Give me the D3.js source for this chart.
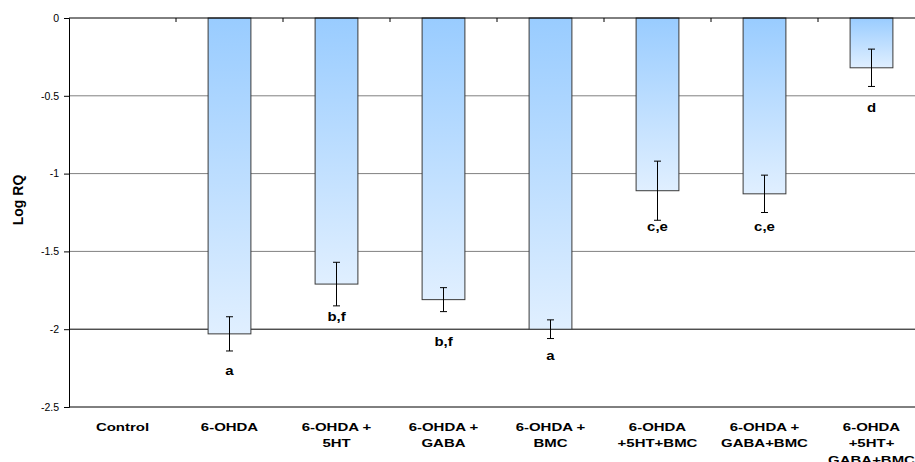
<!DOCTYPE html>
<html><head><meta charset="utf-8">
<script src="https://cdn.jsdelivr.net/npm/d3@7"></script>
<style>body{margin:0;background:#fff}svg{display:block}</style>
</head><body>
<script>
const categories = ["Control","6-OHDA","6-OHDA +\n5HT","6-OHDA +\nGABA","6-OHDA +\nBMC","6-OHDA\n+5HT+BMC","6-OHDA +\nGABA+BMC","6-OHDA\n+5HT+\nGABA+BMC"];
const values = [0, -2.03, -1.71, -1.81, -2.00, -1.11, -1.13, -0.32];
const errors = [0, 0.11, 0.14, 0.077, 0.06, 0.19, 0.12, 0.12];
const sigLabels = ["", "a", "b,f", "b,f", "a", "c,e", "c,e", "d"];
const sigLabelY = [null, -2.262, -1.915, -2.08, -2.17, -1.341, -1.341, -0.578];
const yTicks = [0, -0.5, -1, -1.5, -2, -2.5];

const W = 915, H = 462;
const svg = d3.select("body").append("svg").attr("width", W).attr("height", H)
  .style("font-family", "'Liberation Sans', Arial, sans-serif");

const x = d3.scaleBand().domain(categories).range([69, 925]).paddingInner(0.6).paddingOuter(0.3);
const y = d3.scaleLinear().domain([-2.5, 0]).range([407, 18]);

const defs = svg.append("defs");
const grad = defs.append("linearGradient").attr("id", "barGrad").attr("x1", 0).attr("y1", 0).attr("x2", 0).attr("y2", 1);
grad.append("stop").attr("offset", "0%").attr("stop-color", "#99ccff");
grad.append("stop").attr("offset", "100%").attr("stop-color", "#e0efff");

// gridlines
svg.append("g").selectAll("line").data(yTicks.filter(t => t !== 0 && t !== -2.5)).join("line")
  .attr("x1", 69).attr("x2", W).attr("y1", d => y(d)).attr("y2", d => y(d))
  .attr("stroke", d => d === -2 ? "#000" : "#808080").attr("stroke-width", 1);

// y axis
const yAxis = d3.axisLeft(y).tickValues(yTicks).tickSize(5).tickPadding(5).tickFormat(d => String(d));
const gy = svg.append("g").attr("transform", "translate(69,0)").call(yAxis);
gy.select(".domain").attr("stroke", "#000");
gy.selectAll(".tick line").attr("stroke", "#000");
gy.selectAll(".tick text").attr("font-size", 10.5).attr("fill", "#000").attr("font-family", "'Liberation Sans', Arial, sans-serif");

// bottom line
svg.append("line").attr("x1", 69).attr("x2", W).attr("y1", y(-2.5)).attr("y2", y(-2.5)).attr("stroke", "#000");

// bars
svg.append("g").selectAll("rect").data(categories.map((c, i) => ({c, v: values[i]})).filter(d => d.v !== 0)).join("rect")
  .attr("x", d => x(d.c)).attr("width", x.bandwidth())
  .attr("y", y(0)).attr("height", d => y(d.v) - y(0))
  .attr("fill", "url(#barGrad)").attr("stroke", "#3a3a3a").attr("stroke-width", 1);

// zero axis line with category ticks
svg.append("line").attr("x1", 69).attr("x2", W).attr("y1", y(0)).attr("y2", y(0)).attr("stroke", "#000");
svg.append("g").selectAll("line").data(categories.slice(1)).join("line")
  .attr("x1", c => x(c) + x.bandwidth() / 2 - x.step() / 2).attr("x2", c => x(c) + x.bandwidth() / 2 - x.step() / 2)
  .attr("y1", y(0)).attr("y2", y(0) + 4).attr("stroke", "#000");

// error bars
const eb = svg.append("g").attr("stroke", "#000").attr("stroke-width", 1);
categories.forEach((c, i) => {
  if (!errors[i]) return;
  const cx = x(c) + x.bandwidth() / 2;
  const y1 = y(values[i] + errors[i]), y2 = y(values[i] - errors[i]);
  eb.append("line").attr("x1", cx).attr("x2", cx).attr("y1", y1).attr("y2", y2);
  eb.append("line").attr("x1", cx - 3.5).attr("x2", cx + 3.5).attr("y1", y1).attr("y2", y1);
  eb.append("line").attr("x1", cx - 3.5).attr("x2", cx + 3.5).attr("y1", y2).attr("y2", y2);
});

// significance letters
svg.append("g").selectAll("text").data(categories.map((c, i) => ({c, t: sigLabels[i], v: sigLabelY[i]})).filter(d => d.t)).join("text")
  .attr("transform", d => `translate(${x(d.c) + x.bandwidth() / 2},${y(d.v)}) scale(1.15,1)`)
  .attr("dy", "0.35em").attr("text-anchor", "middle")
  .attr("font-size", 13).attr("font-weight", "bold").text(d => d.t);

// category labels
const cl = svg.append("g").selectAll("text").data(categories).join("text")
  .attr("text-anchor", "middle").attr("font-size", 11).attr("font-weight", "bold")
  .attr("transform", d => `translate(${x(d) + x.bandwidth() / 2},431) scale(1.36,1)`);
cl.each(function(d) {
  const lines = d.split("\n");
  d3.select(this).selectAll("tspan").data(lines).join("tspan")
    .attr("x", 0).attr("y", (l, j) => j * 16.5).text(l => l);
});

// y title
svg.append("text").attr("transform", "translate(23,200) rotate(-90)")
  .attr("text-anchor", "middle").attr("font-size", 14).attr("font-weight", "bold").text("Log RQ");
</script>
</body></html>
